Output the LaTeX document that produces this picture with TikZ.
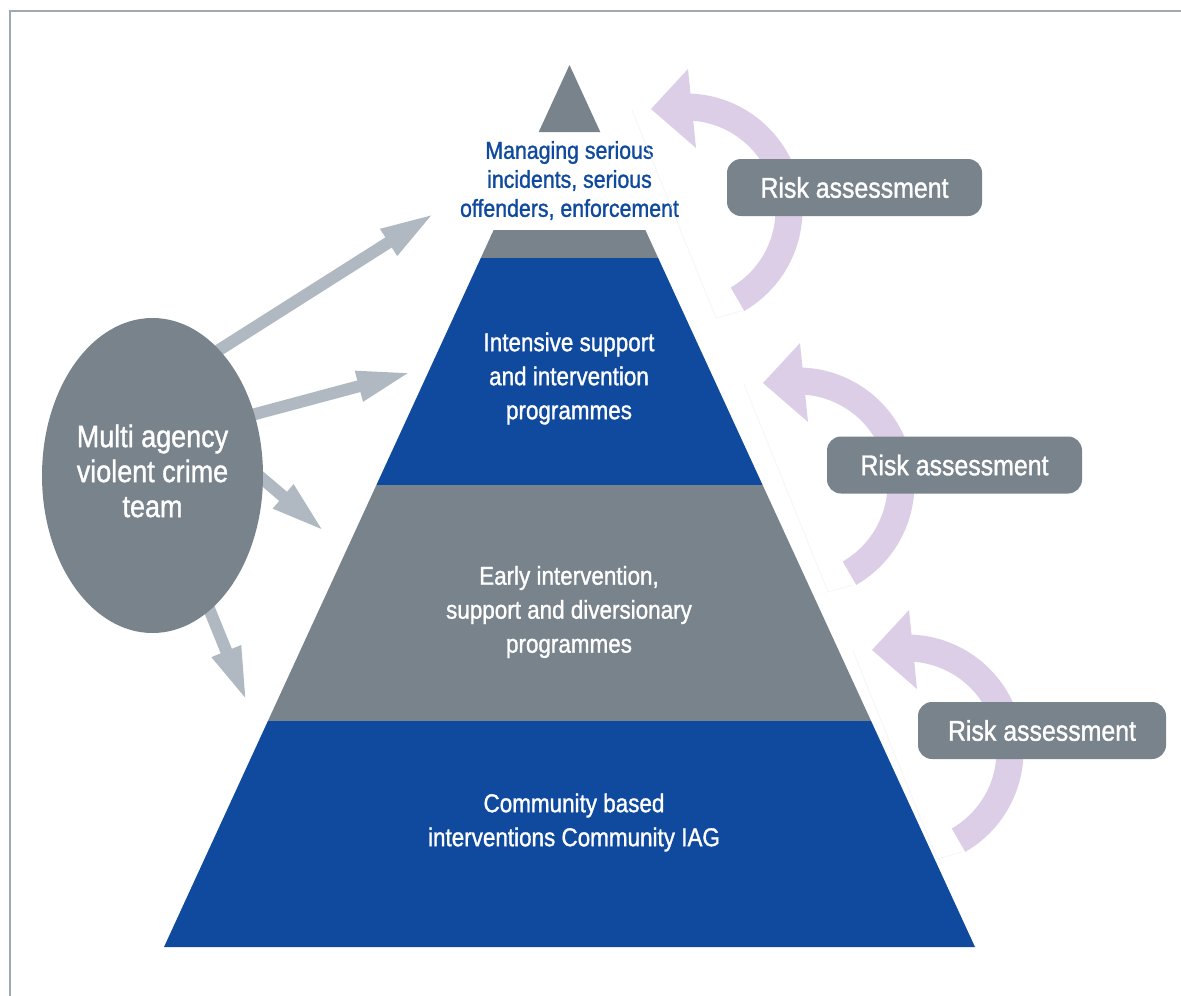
\documentclass[tikz,border=0pt]{standalone}
\usepackage{fontspec}
\setmainfont{Liberation Sans}[FakeStretch=0.87, FakeBold=1.2]
\usetikzlibrary{arrows.meta,shapes.geometric}
\definecolor{pblue}{RGB}{16,74,158}
\definecolor{pgray}{RGB}{120,131,140}
\definecolor{lgray}{RGB}{176,185,194}
\definecolor{lav}{RGB}{220,206,231}
\definecolor{bordergray}{RGB}{160,168,176}
\definecolor{faint}{RGB}{243,243,245}
\pgfdeclarelayer{bg}
\pgfdeclarelayer{back}
\pgfsetlayers{bg,back,main}
\newcommand\riskarc[1]{%
  \begin{scope}[shift={#1}]
    \draw[faint, line width=0.6pt] (-54,-100) -- (30,108) -- (55,101);
    \fill[lav] (60:116.5) arc[start angle=60, end angle=-92, radius=116.5]
      -- (-92:89.5) arc[start angle=-92, end angle=60, radius=89.5] -- cycle;
    \fill[lav] (2,-141) -- (-35,-101) -- (10,-62) -- cycle;
  \end{scope}}
\begin{document}
\begin{tikzpicture}[x=1pt, y=-1pt,
  wtext/.style={text=white, align=center, inner sep=0pt, font=\fontsize{25.8}{34}\selectfont},
  bluetext/.style={text=pblue, align=center, inner sep=0pt, font=\fontsize{24.5}{29}\selectfont},
  etext/.style={text=white, align=center, inner sep=0pt, font=\fontsize{31}{35}\selectfont},
  riskbox/.style={fill=pgray, rounded corners=14pt, text=white, minimum height=57pt, inner sep=0pt, font=\fontsize{28.6}{34}\selectfont},
  garrow/.style={draw=lgray, line width=12pt, -{Triangle[length=55pt, width=28pt]}}]
\useasboundingbox (0,0) rectangle (1181,996);
\begin{pgfonlayer}{bg}
\fill[white] (0,0) rectangle (1181,996);
\end{pgfonlayer}
\draw[bordergray, line width=1.5pt] (10,996) -- (10,11) -- (1181,11);

% pyramid
\fill[pgray] (569.5,65) -- (600.3,132) -- (538.7,132) -- cycle;
\fill[pgray] (493.65,230) -- (645.35,230) -- (658.2,258) -- (480.8,258) -- cycle;
\fill[pblue] (480.8,258) -- (658.2,258) -- (762.6,485) -- (376.4,485) -- cycle;
\fill[pgray] (376.4,485) -- (762.6,485) -- (871.1,721) -- (267.9,721) -- cycle;
\fill[pblue] (267.9,721) -- (871.1,721) -- (975,947) -- (164,947) -- cycle;

\node[bluetext] (top) at (569.5,180.5) {Managing serious\\incidents, serious\\offenders, enforcement};
\node[wtext] (l2) at (569,378.5) {Intensive support\\and intervention\\programmes};
\node[wtext] (l3) at (569,612) {Early intervention,\\support and diversionary\\programmes};
\node[wtext] (l4) at (574,822.5) {Community based\\interventions Community IAG};

% ellipse
\node[ellipse, fill=pgray, minimum width=221pt, minimum height=315pt, inner sep=0pt] (ell) at (152.5,475.5) {};
\node[etext] (et) at (152.5,471) {Multi agency\\violent crime\\team};

\coordinate (t1) at (435,213);
\coordinate (t2) at (412,372);
\coordinate (t3) at (325,532);
\coordinate (t4) at (247,702);
\begin{pgfonlayer}{back}
\draw[garrow, shorten <=-10pt] (ell.62) -- (t1);
\draw[garrow, shorten <=-10pt] (ell.31) -- (t2);
\draw[garrow, shorten <=-10pt] (ell.-2) -- (t3);
\draw[garrow, shorten <=-10pt] (ell.-67) -- (t4);
\end{pgfonlayer}

% risk assessment loops
\riskarc{(686,210)}
\riskarc{(798,484)}
\riskarc{(907,751)}
\node[riskbox, minimum width=255pt] (r1) at (854.5,187.5) {Risk assessment};
\node[riskbox, minimum width=255pt] (r2) at (954.5,465) {Risk assessment};
\node[riskbox, minimum width=248pt] (r3) at (1042,730.5) {Risk assessment};
\end{tikzpicture}
\end{document}
